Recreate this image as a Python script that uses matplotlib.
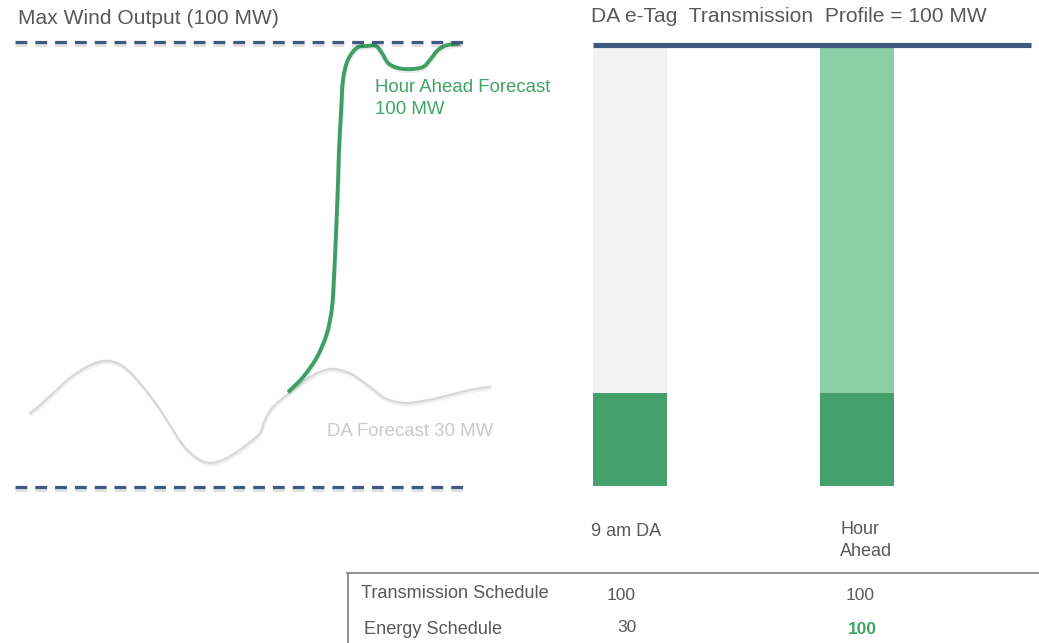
import matplotlib
matplotlib.use('Agg')
import matplotlib.pyplot as plt
import matplotlib.patheffects as pe
from matplotlib.lines import Line2D
from matplotlib.path import Path
from matplotlib.patches import PathPatch

W, H = 1039, 643

# ---------------- data ----------------
# Day-ahead forecast (time units, MW)
da_time = [15, 25, 38, 55, 72, 88, 102, 115, 128, 142, 155, 168, 182, 195, 208,
           222, 235, 245, 250, 258, 272, 288, 302, 315, 325, 338, 355, 368, 382,
           395, 415, 435, 455, 475]
da_mw = [16.6, 18.4, 21.1, 24.5, 27.0, 28.3, 27.9, 25.8, 22.5, 18.4, 13.9, 9.4,
         6.5, 5.4, 6.1, 7.9, 10.1, 12.1, 15.1, 18.0, 20.7, 23.6, 25.6, 26.5,
         26.3, 25.2, 22.5, 20.2, 19.1, 18.9, 19.6, 20.7, 21.8, 22.5]
# Hour-ahead forecast
ha_time = [273, 288, 302, 312, 317, 319, 321, 323, 324, 326, 328, 333, 342,
           352, 361, 367, 373, 382, 395, 408, 415, 423, 432, 445]
ha_mw = [21.3, 24.7, 29.2, 34.6, 40.4, 47.2, 57.1, 68.3, 75.7, 84.0, 91.5, 96.0,
         98.7, 99.1, 99.1, 97.5, 95.3, 94.2, 93.9, 94.4, 96.0, 98.2, 99.3, 99.6]
max_output = 100
min_output = 0

bar_categories = ['9 am DA', 'Hour\nAhead']
transmission_profile = [100, 100]
energy_part = [21, 21]

table_rows = ['Transmission Schedule', 'Energy Schedule']
table_da = ['100', '30']
table_ha = ['100', '100']

# ---------------- style ----------------
plt.rcParams['font.family'] = ['Liberation Sans', 'DejaVu Sans']
TXT = '#595959'
GREEN_LINE = '#3e9f63'
GREEN_TXT = '#3fa564'
DARK_GREEN = '#46a06b'
LIGHT_GREEN = '#8acfa5'
LIGHT_GRAY = '#f2f2f2'
BLUE = '#3e5a80'
CURVE_GRAY = '#d9d9d9'

fig = plt.figure(figsize=(W / 100, H / 100), dpi=100)


def fx(px):
    return px / W


def fy(py):
    return 1 - py / H


def smooth_path(xs, ys):
    """Smooth (Catmull-Rom style) Bezier path through the given points,
    rendered by matplotlib's own curve drawing."""
    pts = list(zip(xs, ys))
    n = len(pts)
    verts = [pts[0]]
    codes = [Path.MOVETO]
    for i in range(n - 1):
        p0 = pts[i - 1] if i > 0 else pts[i]
        p1 = pts[i]
        p2 = pts[i + 1]
        p3 = pts[i + 2] if i + 2 < n else pts[i + 1]
        c1 = (p1[0] + (p2[0] - p0[0]) / 6, p1[1] + (p2[1] - p0[1]) / 6)
        c2 = (p2[0] - (p3[0] - p1[0]) / 6, p2[1] - (p3[1] - p1[1]) / 6)
        verts += [c1, c2, p2]
        codes += [Path.CURVE4] * 3
    return Path(verts, codes)


# ---------------- left panel ----------------
ax1 = fig.add_axes([fx(15), fy(487), 455 / W, 445 / H])
ax1.set_xlim(0, 455)
ax1.set_ylim(0, 100)
ax1.axis('off')

dash_fx = [pe.SimpleLineShadow(offset=(0, -2.5), shadow_color='k', alpha=0.12),
           pe.Normal()]
for lvl in (max_output, min_output):
    ax1.plot([0, 455], [lvl, lvl], color=BLUE, lw=2.3, dashes=(3.7, 2.5),
             clip_on=False, path_effects=dash_fx)

da_patch = PathPatch(smooth_path(da_time, da_mw), fill=False, edgecolor=CURVE_GRAY,
                     lw=1.7, clip_on=False, capstyle='round', joinstyle='round',
                     path_effects=[pe.SimpleLineShadow(offset=(0.5, -1.5),
                                                       shadow_color='k', alpha=0.06),
                                   pe.Normal()])
ax1.add_patch(da_patch)
ha_patch = PathPatch(smooth_path(ha_time, ha_mw), fill=False, edgecolor=GREEN_LINE,
                     lw=2.8, clip_on=False, capstyle='butt', joinstyle='round',
                     path_effects=[pe.SimpleLineShadow(offset=(0.5, -1.5),
                                                       shadow_color='k', alpha=0.08),
                                   pe.Normal()])
ax1.add_patch(ha_patch)

fig.text(fx(18), fy(18), 'Max Wind Output (100 MW)', fontsize=15.1, color=TXT,
         ha='left', va='center')
fig.text(fx(375), fy(88), 'Hour Ahead Forecast', fontsize=13.4, color=GREEN_TXT,
         ha='left', va='center')
fig.text(fx(375), fy(109), '100 MW', fontsize=13.4, color=GREEN_TXT,
         ha='left', va='center')
fig.text(fx(327), fy(432), 'DA Forecast 30 MW', fontsize=13.4, color='#c9c9c9',
         ha='left', va='center')

# ---------------- right panel ----------------
ax2 = fig.add_axes([fx(593), fy(486), 438 / W, 441.5 / H])
ax2.set_xlim(-0.163, 1.767)
ax2.set_ylim(0, 100)
ax2.axis('off')

xpos = list(range(len(bar_categories)))
upper = [t - e for t, e in zip(transmission_profile, energy_part)]

# soft drop shadow behind the day-ahead column
shadow_bar = ax2.bar([xpos[0]], [transmission_profile[0]], width=0.326,
                     color=LIGHT_GRAY, linewidth=0, zorder=1)
shadow_bar[0].set_path_effects([pe.SimplePatchShadow(offset=(-1.5, -1.5),
                                                     shadow_rgbFace='k', alpha=0.15),
                                pe.Normal()])

ax2.bar(xpos, energy_part, width=0.326, color=DARK_GREEN, linewidth=0, zorder=2)
ax2.bar(xpos, upper, bottom=energy_part, width=0.326,
        color=[LIGHT_GRAY, LIGHT_GREEN], linewidth=0, zorder=2)

ax2.axhline(transmission_profile[0], color=BLUE, lw=3.7, zorder=5, clip_on=False,
            solid_capstyle='butt')

fig.text(fx(591), fy(17), 'DA e-Tag  Transmission  Profile = 100 MW', fontsize=15.1,
         color=TXT, ha='left', va='center')

# bar labels
fig.text(fx(626), fy(532), bar_categories[0], fontsize=13, color=TXT,
         ha='center', va='center')
for i, line in enumerate(bar_categories[1].split('\n')):
    fig.text(fx(840), fy(530 + 21 * i), line, fontsize=13, color=TXT,
             ha='left', va='center')

# ---------------- table ----------------
fig.add_artist(Line2D([fx(347), fx(1039)], [fy(572.5), fy(572.5)], color='#7f7f7f',
                      lw=1.2, transform=fig.transFigure))
fig.add_artist(Line2D([fx(347.5), fx(347.5)], [fy(572.5), fy(643)], color='#7f7f7f',
                      lw=1.2, transform=fig.transFigure))

row_y = [593, 630]
row_x = [361, 364]
for i, name in enumerate(table_rows):
    fig.text(fx(row_x[i]), fy(row_y[i]), name, fontsize=13.1, color=TXT,
             ha='left', va='center')
fig.text(fx(621), fy(595), table_da[0], fontsize=12.5, color=TXT, ha='center', va='center')
fig.text(fx(627), fy(628), table_da[1], fontsize=12.5, color=TXT, ha='center', va='center')
fig.text(fx(860), fy(595), table_ha[0], fontsize=12.5, color=TXT, ha='center', va='center')
fig.text(fx(862), fy(630), table_ha[1], fontsize=12.5, color=GREEN_TXT, ha='center',
         va='center', fontweight='bold')

fig.savefig('out.png', dpi=100)
